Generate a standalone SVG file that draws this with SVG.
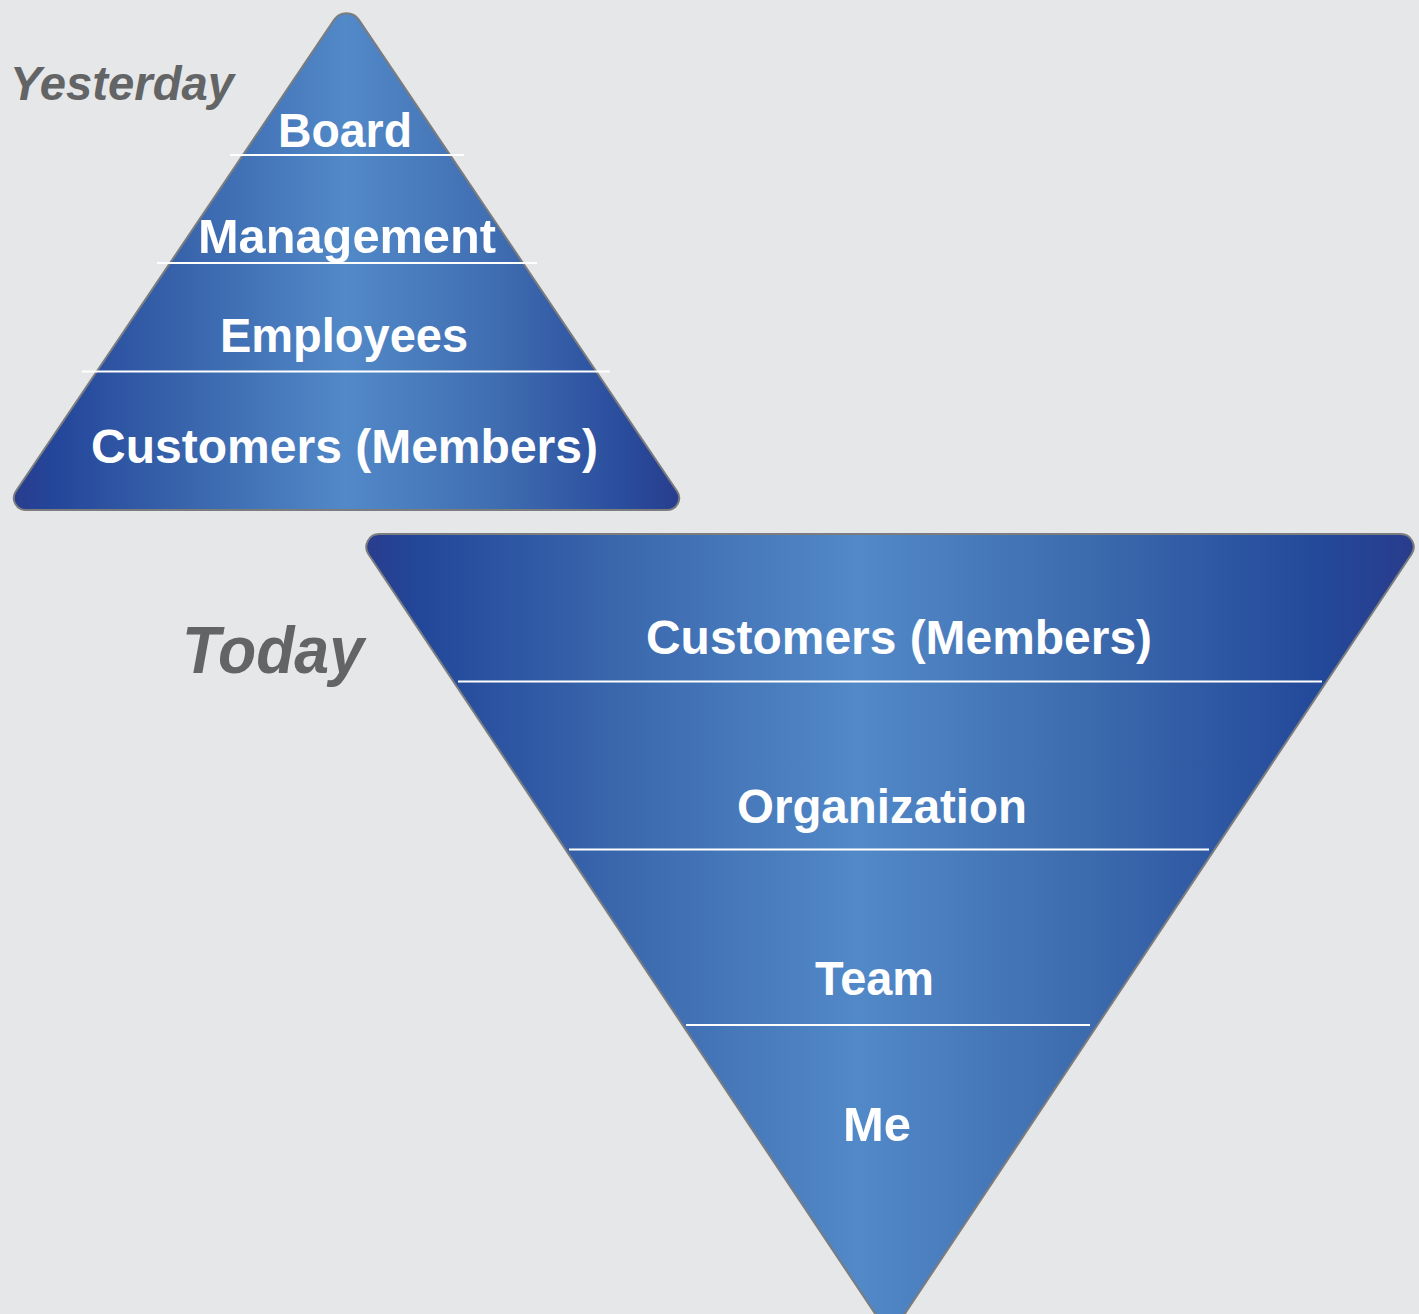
<svg xmlns="http://www.w3.org/2000/svg" width="1419" height="1314" viewBox="0 0 1419 1314">
  <defs>
    <linearGradient id="gradY" gradientUnits="userSpaceOnUse" x1="3" y1="0" x2="690" y2="0">
      <stop offset="0" stop-color="#2b3a8a"/>
      <stop offset="0.07" stop-color="#24459a"/>
      <stop offset="0.25" stop-color="#3762aa"/>
      <stop offset="0.5" stop-color="#5289c8"/>
      <stop offset="0.72" stop-color="#3f6db1"/>
      <stop offset="0.9" stop-color="#2a4d9d"/>
      <stop offset="1" stop-color="#283a8a"/>
    </linearGradient>
    <linearGradient id="gradT" gradientUnits="userSpaceOnUse" x1="355" y1="0" x2="1425" y2="0">
      <stop offset="0" stop-color="#2b3a8a"/>
      <stop offset="0.06" stop-color="#22479a"/>
      <stop offset="0.25" stop-color="#3b68ad"/>
      <stop offset="0.47" stop-color="#5289c8"/>
      <stop offset="0.67" stop-color="#3e6daf"/>
      <stop offset="0.9" stop-color="#23499a"/>
      <stop offset="1" stop-color="#2a3a8a"/>
    </linearGradient>
  </defs>
  <style>
    .shape { stroke: #7b7c7e; stroke-width: 2; }
    .sep { stroke: #ffffff; stroke-width: 2.2; fill: none; }
    .lbl { font-family: "Liberation Sans", Arial, sans-serif; font-weight: bold; font-size: 48px; fill: #ffffff; text-anchor: middle; }
    .era { font-family: "Liberation Sans", Arial, sans-serif; font-weight: bold; font-style: italic; fill: #636466; }
  </style>
  <rect x="0" y="0" width="1419" height="1314" fill="#e6e7e8"/>

  <g id="yesterday">
    <text class="era" x="10" y="100" font-size="48" textLength="224" lengthAdjust="spacingAndGlyphs">Yesterday</text>
  </g>
  <g id="today">
    <text class="era" x="182" y="673" font-size="66" textLength="182" lengthAdjust="spacingAndGlyphs">Today</text>
  </g>

  <g id="pyramid-yesterday">
    <path class="shape" fill="url(#gradY)" d="M 334.1,19.9 A 15 15 0 0 1 358.9,19.9 L 677.1,491.3 A 12 12 0 0 1 667.1,510 L 25.9,510 A 12 12 0 0 1 15.9,491.3 Z"/>
    <line class="sep" x1="230" y1="155" x2="464" y2="155"/>
    <line class="sep" x1="157" y1="263" x2="537" y2="263"/>
    <line class="sep" x1="82" y1="371.5" x2="610" y2="371.5"/>
    <g id="y-board"><text class="lbl" x="345" y="147" textLength="134" lengthAdjust="spacingAndGlyphs">Board</text></g>
    <g id="y-management"><text class="lbl" x="347" y="253" textLength="298" lengthAdjust="spacingAndGlyphs">Management</text></g>
    <g id="y-employees"><text class="lbl" x="344" y="352" textLength="248" lengthAdjust="spacingAndGlyphs">Employees</text></g>
    <g id="y-customers"><text class="lbl" x="344.5" y="463" textLength="507" lengthAdjust="spacingAndGlyphs">Customers (Members)</text></g>
  </g>

  <g id="pyramid-today">
    <path class="shape" fill="url(#gradT)" d="M 379.3,534 L 1400.7,534 A 13 13 0 0 1 1411.5,554.2 L 890,1336 L 368.5,554.2 A 13 13 0 0 1 379.3,534 Z"/>
    <line class="sep" x1="458" y1="681.5" x2="1322" y2="681.5"/>
    <line class="sep" x1="569" y1="849.5" x2="1209" y2="849.5"/>
    <line class="sep" x1="686" y1="1025" x2="1090" y2="1025"/>
    <g id="t-customers"><text class="lbl" x="899" y="654" textLength="506" lengthAdjust="spacingAndGlyphs">Customers (Members)</text></g>
    <g id="t-organization"><text class="lbl" x="882" y="823" textLength="290" lengthAdjust="spacingAndGlyphs">Organization</text></g>
    <g id="t-team"><text class="lbl" x="874.5" y="995" textLength="119" lengthAdjust="spacingAndGlyphs">Team</text></g>
    <g id="t-me"><text class="lbl" x="877" y="1141" textLength="68" lengthAdjust="spacingAndGlyphs">Me</text></g>
  </g>

  <g id="connectors"></g>
</svg>
